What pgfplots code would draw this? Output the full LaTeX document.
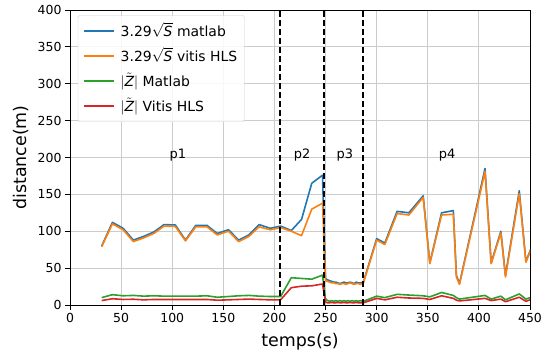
\documentclass[border=0pt]{standalone}
\usepackage{pgfplots}
\pgfplotsset{compat=1.18}
\usepackage{fontspec}
\setmainfont{DejaVu Sans}
\definecolor{tblue}{HTML}{1F77B4}
\definecolor{torange}{HTML}{FF7F0E}
\definecolor{tgreen}{HTML}{2CA02C}
\definecolor{tred}{HTML}{D62728}
\begin{document}
\begin{tikzpicture}
\begin{axis}[
  scale only axis,
  width=460bp, height=295bp,
  xmin=0, xmax=450, ymin=0, ymax=400,
  xtick={0,50,...,450}, ytick={0,50,...,400},
  grid=major,
  grid style={gray!40, line width=0.8pt},
  axis line style={black, line width=0.8pt},
  tick style={black, line width=0.8pt},
  tick align=outside, tick pos=left,
  major tick length=5bp,
  /pgf/number format/assume math mode=true,
  ticklabel style={font=\fontsize{12.5}{14}\selectfont},
  xlabel={temps(s)}, ylabel={distance(m)},
  label style={font=\fontsize{17.5}{20}\selectfont},
  xlabel style={yshift=-3bp},
  ylabel style={yshift=2bp},
  clip=true,
  legend style={at={(0.017,0.982)}, anchor=north west, draw=black!20, rounded corners=2pt,
    fill=white, fill opacity=0.85, text opacity=1, draw opacity=1,
    font=\fontsize{14}{16}\selectfont, row sep=5bp, inner xsep=5bp, inner ysep=5.5bp,
    nodes={text height=15bp, text depth=5bp, inner ysep=0bp},
    /tikz/every odd column/.append style={column sep=4bp}},
  legend cell align=left,
  legend image code/.code={\draw[#1, line width=1.7pt] (0bp,0bp) -- (30bp,0bp);},
  every axis plot/.append style={line width=1.6pt, line join=round},
]
\coordinate (bl) at (rel axis cs:0,0);
\coordinate (tr) at (rel axis cs:1,1);
\addplot[tblue] coordinates {
(31,80)(41.5,112)(52,104)(62,88)(72,93)(82,99)(92,109)(103,108.5)(113,88)(123,108)(134,108)
(144,97)(155,102)(165,88)(175,95)(185,109)(196,104)(206,107)(216.5,101)(226.5,116)(236.5,165)(247,176)
(250,36)(252,34)(254,33)(256,32)(258,31)(260,31)(262,30)(264,29)(266,30)(268,31)(270,30)(272,30)(274,31)
(276,30)(278,29)(280,31)(282,30)(284,30)(287,31)
(300,90)(308,84)(320,127)(331.5,125)(345.5,148)(352,57)(363.5,125)(375,128)(378,40)(381,29)
(406,185)(412,57)(421.5,100)(426,40)(439.5,155)(446,59)(452,80)};
\addlegendentry{3.29$\sqrt{\hbox{\itshape S}}$ matlab}
\addplot[torange] coordinates {
(31,79)(41.5,110)(52,102)(62,86)(72,91)(82,97)(92,107)(103,106.5)(113,87)(123,106)(134,106)
(144,95)(155,100)(165,86)(175,93)(185,106)(196,102)(206,105)(216.5,100)(226.5,94)(236.5,130)(247,138)
(250,33)(252,32)(254,31)(256,30)(258,30)(260,29)(262,29)(264,28)(266,29)(268,29)(270,28)(272,29)(274,30)
(276,29)(278,28)(280,29)(282,29)(284,28)(287,30)
(300,88)(308,82)(320,124)(331.5,122)(345.5,146)(352,56)(363.5,122)(375,123)(378,38)(381,28)
(406,181)(412,56)(421.5,98)(426,38)(439.5,151)(446,58)(452,79)};
\addlegendentry{3.29$\sqrt{\hbox{\itshape S}}$ vitis HLS}
\addplot[tgreen] coordinates {
(31,10)(41.5,14)(52,12.5)(62,13)(72,12)(82,12.5)(92,12)(103,12)(113,12)(123,12)(134,12.5)
(144,10.5)(155,11.5)(165,12.5)(175,13)(185,12)(196,11.5)(206,11.5)(216.5,37)(226.5,36)(236.5,35)(247,40.5)
(250,8)(252,6)(254,5)(256,6)(258,5)(260,6)(262,5)(264,6)(266,5)(268,6)(270,5)(272,6)(274,5)
(276,6)(278,5)(280,6)(282,5)(284,6)(287,5)
(300,12)(308,10)(320,14.5)(331.5,13.5)(345.5,12.5)(352,11)(363.5,17)(375,13)(378,10)(381,8)
(406,13)(412,8)(421.5,12)(426,7)(439.5,15)(446,8)(452,11)};
\addlegendentry{$|\tilde{\hbox{\itshape Z}}|$ Matlab}
\addplot[tred] coordinates {
(31,6)(41.5,8.5)(52,7.5)(62,7.8)(72,7)(82,7.5)(92,7.5)(103,7.5)(113,7.5)(123,7.5)(134,7.5)
(144,6.5)(155,7)(165,7.5)(175,8)(185,7.5)(196,7)(206,7)(216.5,23.5)(226.5,25.5)(236.5,26)(247,28.5)
(250,4)(252,3)(254,3)(256,3.5)(258,3)(260,3)(262,3.5)(264,3)(266,3)(268,3.5)(270,3)(272,3)(274,3.5)
(276,3)(278,3)(280,3.5)(282,3)(284,3)(287,3)
(300,9)(308,7)(320,10.5)(331.5,9.5)(345.5,9)(352,7.5)(363.5,12.5)(375,9)(378,6.5)(381,5.5)
(406,9)(412,6)(421.5,8)(426,4.5)(439.5,10.5)(446,5)(452,8)};
\addlegendentry{$|\tilde{\hbox{\itshape Z}}|$ Vitis HLS}
\addplot[black, line width=1.8pt, dash pattern=on 6bp off 3bp, forget plot] coordinates {(205.5,0)(205.5,400)};
\addplot[black, line width=1.8pt, dash pattern=on 6bp off 3bp, forget plot] coordinates {(248.5,0)(248.5,400)};
\addplot[black, line width=1.8pt, dash pattern=on 6bp off 3bp, forget plot] coordinates {(287,0)(287,400)};
\node[font=\fontsize{13}{15}\selectfont] at (axis cs:105.5,203) {p1};
\node[font=\fontsize{13}{15}\selectfont] at (axis cs:227,203) {p2};
\node[font=\fontsize{13}{15}\selectfont] at (axis cs:269,203) {p3};
\node[font=\fontsize{13}{15}\selectfont] at (axis cs:369,203) {p4};
\end{axis}
\pgfresetboundingbox
\path[use as bounding box] ([xshift=-70bp,yshift=-51bp]bl) rectangle ([xshift=16bp,yshift=10bp]tr);
\end{tikzpicture}
\end{document}
